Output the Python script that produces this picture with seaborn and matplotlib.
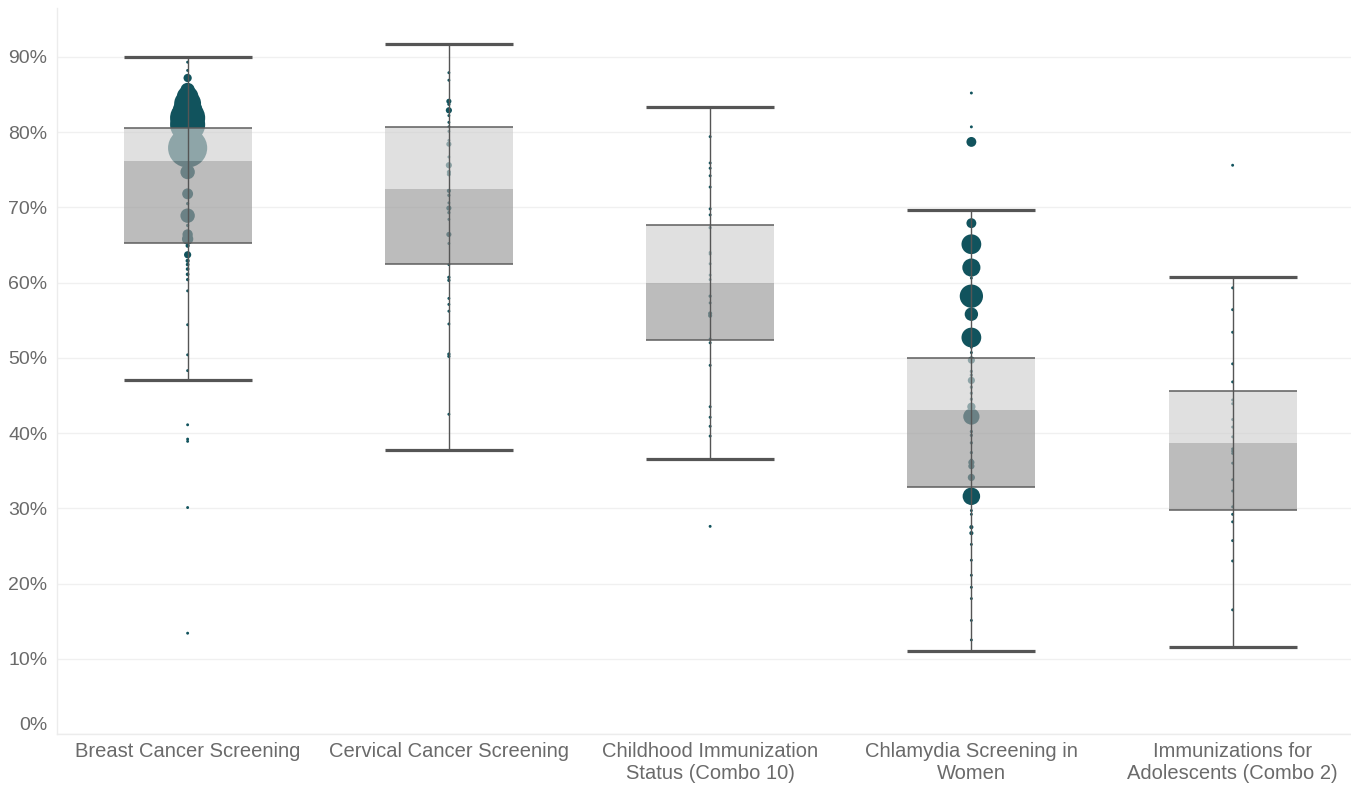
import numpy as np
import pandas as pd
import seaborn as sns
from matplotlib import pyplot as plt

# measures, in display order
measures = ["Breast Cancer Screening", "Cervical Cancer Screening",
            "Childhood Immunization\nStatus (Combo 10)",
            "Chlamydia Screening in\nWomen",
            "Immunizations for\nAdolescents (Combo 2)"]

# box plot statistics per measure (%)
whisker_lo = [47.0, 37.7, 36.5, 11.0, 11.6]
q1 = [65.3, 62.5, 52.4, 32.8, 29.8]
median = [76.1, 72.4, 60.0, 43.1, 38.7]
q3 = [80.5, 80.7, 67.6, 50.0, 45.6]
whisker_hi = [90.0, 91.7, 83.4, 69.7, 60.8]

# plan rates (%) and plan size (members) for each measure
breast_rate = [89.3, 88.2, 87.2, 85.6, 84.7, 83.8, 82.8, 81.9, 81.0, 80.2,
               77.9, 74.7, 71.8, 70.5, 68.9, 67.6, 66.4, 65.8, 64.9, 63.7,
               62.9, 62.4, 61.8, 61.1, 60.4, 58.9, 54.4, 50.4, 48.3, 41.1,
               39.2, 38.9, 30.1, 13.4]
breast_members = [20, 20, 160, 490, 1100, 1700, 2100, 2900, 2900, 1960,
                  3610, 490, 281, 25, 490, 25, 250, 302, 40, 122,
                  40, 32, 32, 32, 25, 20, 20, 20, 20, 20,
                  20, 20, 20, 20]

cervical_rate = [87.9, 86.9, 84.1, 83.7, 82.9, 82.2, 81.3, 80.7, 80.1, 78.9,
                 78.4, 76.7, 75.6, 74.7, 74.4, 72.2, 71.6, 70.6, 69.9, 69.3,
                 68.4, 66.4, 65.2, 62.4, 60.7, 60.3, 57.9, 57.1, 56.2, 54.5,
                 50.5, 50.2, 42.5]
cervical_members = [20, 20, 62, 25, 90, 20, 20, 20, 20, 20,
                    62, 20, 90, 40, 40, 40, 25, 20, 62, 25,
                    20, 62, 20, 20, 25, 25, 20, 20, 20, 20,
                    25, 25, 20]

childhood_rate = [79.4, 75.9, 75.2, 74.2, 72.7, 69.8, 69.0, 67.3, 64.0, 63.8,
                  62.5, 61.0, 60.4, 58.2, 57.3, 55.9, 55.6, 52.5, 52.0, 49.0,
                  43.5, 42.1, 40.9, 39.6, 27.6]
childhood_members = [20, 20, 20, 20, 20, 20, 20, 25, 20, 20,
                     20, 20, 20, 25, 20, 40, 40, 20, 20, 20,
                     20, 20, 20, 20, 20]

chlamydia_rate = [85.2, 80.7, 78.7, 67.9, 65.1, 62.0, 60.6, 58.2, 55.8, 52.7,
                  51.4, 50.7, 49.7, 48.2, 47.7, 47.0, 46.1, 45.3, 44.5, 43.5,
                  42.2, 40.2, 39.7, 38.7, 37.4, 36.4, 36.1, 35.6, 34.1, 31.6,
                  29.7, 29.2, 27.5, 26.7, 25.2, 23.1, 21.1, 19.5, 18.0, 15.1,
                  12.5]
chlamydia_members = [20, 20, 230, 230, 922, 774, 20, 1277, 422, 922,
                     20, 20, 122, 25, 25, 122, 25, 25, 25, 160,
                     624, 25, 25, 25, 25, 25, 90, 90, 122, 722,
                     20, 20, 40, 40, 20, 20, 20, 20, 20, 20,
                     20]

adolescent_rate = [75.6, 59.3, 56.4, 53.4, 49.2, 46.8, 44.4, 43.9, 41.8, 40.8,
                   39.5, 37.9, 37.6, 37.3, 36.0, 33.8, 32.3, 30.2, 29.2, 28.2,
                   25.7, 23.0, 16.5]
adolescent_members = [20] * len(adolescent_rate)

rates = [breast_rate, cervical_rate, childhood_rate, chlamydia_rate, adolescent_rate]
members = [breast_members, cervical_members, childhood_members,
           chlamydia_members, adolescent_members]

df = pd.concat([pd.DataFrame({"pos": i, "rate": r, "members": m})
                for i, (r, m) in enumerate(zip(rates, members))],
               ignore_index=True)

sns.set_style("white")
plt.rcParams["font.family"] = ["Liberation Sans", "DejaVu Sans"]

text_color = "#6a6a6a"
teal = "#11535d"
line_color = "#555555"
box_w = 0.49

fig = plt.figure(figsize=(13.51, 7.86), dpi=100)
ax = fig.add_axes([57 / 1351, 52 / 786, 1294 / 1351, 726 / 786])

# plan dots, sized by members
sns.scatterplot(data=df, x="pos", y="rate", size="members",
                sizes=(0, 880), size_norm=(0, 4000), color=teal,
                linewidth=0, alpha=1, legend=False, ax=ax, zorder=2)

pos = np.arange(len(measures))
lo_box = np.array(q1)
med = np.array(median)
hi_box = np.array(q3)

# two-tone boxes laid over the dots
ax.bar(pos, med - lo_box, bottom=lo_box, width=box_w, color="#9a9a9a",
       alpha=0.66, linewidth=0, zorder=3)
ax.bar(pos, hi_box - med, bottom=med, width=box_w, color="#d0d0d0",
       alpha=0.66, linewidth=0, zorder=3)
ax.hlines(q1, pos - box_w / 2, pos + box_w / 2, color="#5e5e5e", lw=1.1, zorder=4)
ax.hlines(q3, pos - box_w / 2, pos + box_w / 2, color="#5e5e5e", lw=1.1, zorder=4)

# whiskers and caps
ax.vlines(pos, whisker_lo, whisker_hi, color=line_color, lw=1.0, zorder=4)
ax.hlines(whisker_lo, pos - box_w / 2, pos + box_w / 2, color=line_color, lw=2.3, zorder=4)
ax.hlines(whisker_hi, pos - box_w / 2, pos + box_w / 2, color=line_color, lw=2.3, zorder=4)

yt = np.arange(0, 100, 10)
ax.set_yticks(yt)
ax.set_yticklabels([f"{v}%" for v in yt])
ax.set_xticks(pos)
ax.set_xticklabels(measures)
ax.set_xticks(np.arange(-0.5, 4, 1), minor=True)
ax.set_xlabel("")
ax.set_ylabel("")

# limits last, so tick setting cannot widen them
ax.set_xlim(-0.5, -0.5 + 1294 / 261.25)
ax.set_ylim(0, 96.5)

ax.grid(axis="y", color="#f0f0f0", lw=1, zorder=0)
ax.grid(axis="x", visible=False)
ax.set_axisbelow(True)
for side in ["top", "right"]:
    ax.spines[side].set_visible(False)
for side in ["left", "bottom"]:
    ax.spines[side].set_color("#ececec")
    ax.spines[side].set_linewidth(1)

ax.tick_params(axis="y", length=0, pad=7, labelsize=14, labelcolor=text_color)
ax.tick_params(axis="x", which="major", length=0, pad=6, labelsize=14.5,
               labelcolor=text_color)
ax.tick_params(axis="x", which="minor", length=5, width=1, color="#ececec",
               direction="out")
ax.get_yticklabels()[0].set_verticalalignment("bottom")

fig.savefig("out.png", dpi=100)
